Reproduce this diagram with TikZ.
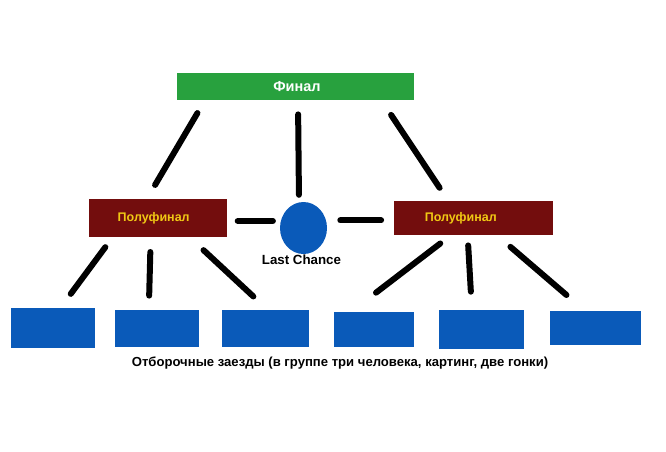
\documentclass[tikz,border=0pt]{standalone}
\usepackage{fontspec}
\setmainfont{Liberation Sans}
\usepackage{tikz}
\usetikzlibrary{shapes}
\usetikzlibrary{calc}
\definecolor{finalgreen}{RGB}{40,161,62}
\definecolor{semired}{RGB}{115,13,13}
\definecolor{semiyellow}{RGB}{240,200,20}
\definecolor{heatblue}{RGB}{10,90,185}

\begin{document}
\begin{tikzpicture}[x=1pt, y=-1pt,
	finalbox/.style={fill=finalgreen, text=white, inner sep=0pt, font=\bfseries\fontsize{14.5}{16}\selectfont},
	semibox/.style={fill=semired, text=semiyellow, inner sep=0pt, font=\bfseries\fontsize{12.5}{14}\selectfont},
	heatbox/.style={fill=heatblue, inner sep=0pt},
	link/.style={line width=6pt, line cap=round}]
	\useasboundingbox (0,0) rectangle (666,451);
	
	\node[finalbox, minimum width=237pt, minimum height=27pt] (final) at (295,86.5) {\hspace*{4pt}Финал};
	\node[semibox, minimum width=138pt, minimum height=38pt] (semiL) at (157.5,218) {Полуфинал\hspace*{7.6pt}};
	\node[semibox, minimum width=158.6pt, minimum height=34.3pt] (semiR) at (473.3,217.9) {Полуфинал\hspace*{25pt}};
	\node[ellipse, fill=heatblue, inner sep=0pt, minimum width=47pt, minimum height=52pt] (lc) at (303.5,228) {};
	\node[font=\bfseries\fontsize{13.3}{15}\selectfont, inner sep=0pt] (lclabel) at (301.5,259.5) {Last Chance};
	
	\node[heatbox, minimum width=84.2pt, minimum height=39.7pt] (h1) at (53.2,327.9) {};
	\node[heatbox, minimum width=84.6pt, minimum height=37pt] (h2) at (156.8,328.5) {};
	\node[heatbox, minimum width=86.5pt, minimum height=37pt] (h3) at (265.3,328.5) {};
	\node[heatbox, minimum width=79.7pt, minimum height=35pt] (h4) at (373.9,329.5) {};
	\node[heatbox, minimum width=85.5pt, minimum height=38.7pt] (h5) at (481.3,329.4) {};
	\node[heatbox, minimum width=90.6pt, minimum height=34.3pt] (h6) at (595.7,327.9) {};
	\node[font=\bfseries\fontsize{13.1}{15}\selectfont, inner sep=0pt] (heatsnote) at (340,363.3) {Отборочные заезды (в группе три человека, картинг, две гонки)};
	
	\draw[link, shorten <=14.9pt, shorten >=16.1pt] ([xshift=-90pt]final.south) -- ([xshift=-10.6pt]semiL.north);
	\draw[link, shorten <=14.2pt, shorten >=7pt] ([xshift=3pt]final.south) -- ([xshift=-4.5pt]lc.north);
	\draw[link, shorten <=17.7pt, shorten >=15.3pt] ([xshift=86.3pt]final.south) -- ([xshift=-25.2pt]semiR.north);
	\draw[link, shorten <=11pt, shorten >=6.9pt] ([yshift=-3pt]semiL.east) -- ([yshift=7pt]lc.west);
	\draw[link, shorten <=13.1pt, shorten >=12.7pt] ([yshift=7.6pt]lc.east) -- ([yshift=-2.5pt]semiR.west);
	
	\draw[link, shorten <=12.4pt, shorten >=17.4pt] ([xshift=-44.8pt]semiL.south) -- ([xshift=7.2pt]h1.north);
	\draw[link, shorten <=14.8pt, shorten >=14.2pt] ([xshift=-6.8pt]semiL.south) -- ([xshift=-8pt]h2.north);
	\draw[link, shorten <=19pt, shorten >=19.6pt] ([xshift=32.1pt]semiL.south) -- ([xshift=2.4pt]h3.north);
	\draw[link, shorten <=13.5pt, shorten >=31.5pt] ([xshift=-22.3pt]semiR.south) -- ([xshift=-22.9pt]h4.north);
	\draw[link, shorten <=10.2pt, shorten >=18.2pt] ([xshift=-5.7pt]semiR.south) -- ([xshift=-9.4pt]h5.north);
	\draw[link, shorten <=17.8pt, shorten >=23.9pt] ([xshift=23.6pt]semiR.south) -- ([xshift=-11.1pt]h6.north);
\end{tikzpicture}
\end{document}
